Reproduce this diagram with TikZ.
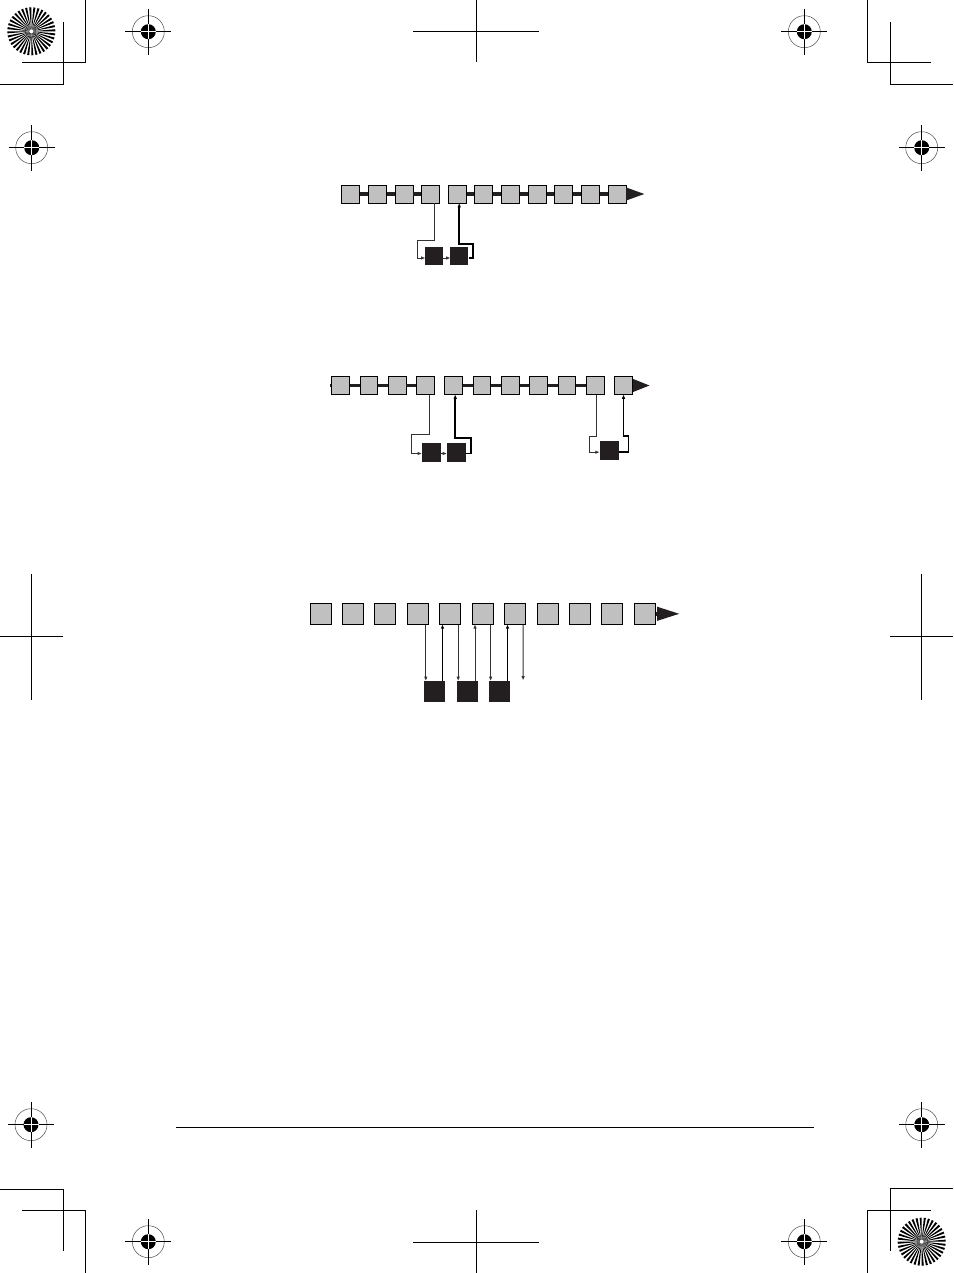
\documentclass[tikz,border=0pt]{standalone}
\usetikzlibrary{arrows.meta,positioning}
\definecolor{cellgray}{RGB}{192,192,192}
\definecolor{jobblack}{RGB}{35,31,32}
\tikzset{
  regmark/.pic={
    \draw[line width=0.5pt, black!70] (0,0) circle [radius=16pt];
    \draw[line width=1pt] (-23pt,0) -- (23pt,0) (0,-23pt) -- (0,23pt);
    \fill (0,0) circle [radius=7.5pt];
    \draw[white, line width=0.7pt] (-7.5pt,0) -- (7.5pt,0) (0,-7.5pt) -- (0,7.5pt);
  },
  starmark/.pic={
    \foreach \a in {0,10,...,350}
      \fill (0,0) -- (\a:24pt) arc [start angle=\a, end angle=\a+5, radius=24pt] -- cycle;
    \fill[white] (0,0) circle [radius=2pt];
  }
}
\begin{document}
\begin{tikzpicture}[x=1pt, y=-1pt]
    \tikzstyle{cell} = [shape=rectangle, draw=black, fill=cellgray, line width=0.8pt, inner sep=0pt]
    \tikzstyle{job}  = [shape=rectangle, fill=jobblack, inner sep=0pt]
    \tikzstyle{bar}  = [line width=3.6pt, draw=jobblack]
    \tikzstyle{feed} = [line width=1pt, draw=black!80, -{Triangle[length=4pt,width=3pt]}]
    \tikzstyle{back} = [line width=1.8pt, draw=black, -{Triangle[length=4pt,width=3pt]}]
    \tikzstyle{crop} = [line width=1pt]
    \useasboundingbox (0,0) rectangle (953,1273);

    % printer's marks
    \draw[crop] (85,0) -- (85,62.7) -- (22.3,62.7);
    \draw[crop] (63.3,22.3) -- (63.3,85) -- (0,85);
    \draw[crop] (867.3,0) -- (867.3,62.7) -- (930.7,62.7);
    \draw[crop] (890.3,22.3) -- (890.3,85) -- (953,85);
    \draw[crop] (0,1189) -- (63.3,1189) -- (63.3,1250.7);
    \draw[crop] (22.3,1210.3) -- (85.3,1210.3) -- (85.3,1273);
    \draw[crop] (953,1188.7) -- (890.3,1188.7) -- (890.3,1250.7);
    \draw[crop] (930.7,1210.3) -- (867.3,1210.3) -- (867.3,1273);
    \draw[crop] (476.7,0) -- (476.7,62.3) (413.3,31.3) -- (539.3,31.3);
    \draw[crop] (476.7,1210) -- (476.7,1273) (413.3,1242.3) -- (539.3,1242.3);
    \draw[crop] (31.3,574) -- (31.3,700) (0,636.3) -- (62.7,636.3);
    \draw[crop] (921.7,574) -- (921.7,700) (890.3,636.3) -- (953,636.3);
    \draw[crop] (175.7,1127.3) -- (814.3,1127.3);
    \pic at (148.3,31.7) {regmark};
    \pic at (31.7,147.7) {regmark};
    \pic at (804.3,31.7) {regmark};
    \pic at (921.7,147.7) {regmark};
    \pic at (31,1124.7) {regmark};
    \pic at (148.3,1241.7) {regmark};
    \pic at (921.7,1124.7) {regmark};
    \pic at (804.3,1241.7) {regmark};
    \pic at (31.3,31.3) {starmark};
    \pic at (921.7,1241.7) {starmark};

    % first row
    \begin{scope}[node distance=26.63pt, every node/.append style={minimum size=18pt}]
    \node (a1)  [cell] at (350.7,194) {};
    \node (a2)  [cell] [right of = a1]  {};
    \node (a3)  [cell] [right of = a2]  {};
    \node (a4)  [cell] [right of = a3]  {};
    \node (a5)  [cell] [right of = a4]  {};
    \node (a6)  [cell] [right of = a5]  {};
    \node (a7)  [cell] [right of = a6]  {};
    \node (a8)  [cell] [right of = a7]  {};
    \node (a9)  [cell] [right of = a8]  {};
    \node (a10) [cell] [right of = a9]  {};
    \node (a11) [cell] [right of = a10] {};
    \node (ja1) [job] at (434.2,256) {};
    \node (ja2) [job] [right of = ja1, node distance=25.1pt] {};
    \end{scope}
    \coordinate (atip) at (645,194);
    \foreach \i/\j in {1/2,2/3,3/4,5/6,6/7,7/8,8/9,9/10,10/11}
        \draw[bar] (a\i) -- (a\j);
    \draw[bar, -{Triangle[length=19pt,width=12pt]}] (a11.east) -- (atip);
    \draw[feed] ([xshift=4]a4.south) -- ++(0,37) -- ++(-17.3,0) |- ([yshift=-2]ja1.west);
    \draw[feed] ([yshift=-2]ja1.east) -- ([yshift=-2]ja2.west);
    \draw[back] ([yshift=-2]ja2.east) -- ++(4.6,0) -- ++(0,-14) -| ([xshift=2]a5.south);

    % second row
    \begin{scope}[node distance=28.3pt, every node/.append style={minimum size=17.7pt}]
    \node (b1)  [cell] at (340.5,385.5) {};
    \node (b2)  [cell] [right of = b1]  {};
    \node (b3)  [cell] [right of = b2]  {};
    \node (b4)  [cell] [right of = b3]  {};
    \node (b5)  [cell] [right of = b4]  {};
    \node (b6)  [cell] [right of = b5]  {};
    \node (b7)  [cell] [right of = b6]  {};
    \node (b8)  [cell] [right of = b7]  {};
    \node (b9)  [cell] [right of = b8]  {};
    \node (b10) [cell] [right of = b9]  {};
    \node (b11) [cell] [right of = b10] {};
    \node (jb1) [job, minimum size=19pt] at (431.2,452.5) {};
    \node (jb2) [job, minimum size=19pt] [right of = jb1, node distance=25.1pt] {};
    \node (jb3) [job, minimum size=19pt] at (609,450.2) {};
    \end{scope}
    \coordinate (bstart) at (330,385.5);
    \coordinate (btip) at (650,385.5);
    \draw[bar] (bstart) -- (b1);
    \foreach \i/\j in {1/2,2/3,3/4,5/6,6/7,7/8,8/9,9/10}
        \draw[bar] (b\i) -- (b\j);
    \draw[bar, -{Triangle[length=17pt,width=12pt]}] (b11.east) -- (btip);
    \draw[feed] ([xshift=4]b4.south) -- ++(0,39.7) -- ++(-17.7,0) |- ([yshift=-1]jb1.west);
    \draw[feed] ([yshift=-1]jb1.east) -- ([yshift=-1]jb2.west);
    \draw[back] ([yshift=-1]jb2.east) -- ++(5,0) -- ++(0,-15.2) -| ([xshift=1.5]b5.south);
    \draw[feed] ([xshift=1]b10.south) -- ++(0,41.3) -- ++(-6.9,0) |- ([yshift=-2]jb3.west);
    \draw[back] ([yshift=-2]jb3.east) -- ++(9.8,0) -- ++(0,-16.5) -| (b11.south);

    % third row
    \begin{scope}[node distance=32.43pt, every node/.append style={minimum size=21pt}]
    \node (c1)  [cell] at (320.5,613.8) {};
    \node (c2)  [cell] [right of = c1]  {};
    \node (c3)  [cell] [right of = c2]  {};
    \node (c4)  [cell] [right of = c3]  {};
    \node (c5)  [cell] [right of = c4]  {};
    \node (c6)  [cell] [right of = c5]  {};
    \node (c7)  [cell] [right of = c6]  {};
    \node (c8)  [cell] [right of = c7]  {};
    \node (c9)  [cell] [right of = c8]  {};
    \node (c10) [cell] [right of = c9]  {};
    \node (c11) [cell] [right of = c10] {};
    \node (jc1) [job] at (434.5,691.3) {};
    \node (jc2) [job] [right of = jc1, node distance=32.5pt] {};
    \node (jc3) [job] [right of = jc2, node distance=32.5pt] {};
    \end{scope}
    \coordinate (ctip) at (680,613.8);
    \coordinate (cend) at (523.1,680);
    \draw[bar, line width=4pt, -{Triangle[length=23pt,width=13pt]}] (c11.east) -- (ctip);
    \draw[feed] ([xshift=8]c4.south) -- ([xshift=8]c4.south |- jc1.north);
    \draw[back] ([xshift=8]jc1.north) -- ([xshift=8]jc1.north |- c5.south);
    \draw[feed] ([xshift=8]c5.south) -- ([xshift=8]c5.south |- jc2.north);
    \draw[feed] ([xshift=8]jc2.north) -- ([xshift=8]jc2.north |- c6.south);
    \draw[feed] ([xshift=8]c6.south) -- ([xshift=8]c6.south |- jc3.north);
    \draw[back] ([xshift=8]jc3.north) -- ([xshift=8]jc3.north |- c7.south);
    \draw[feed] ([xshift=8]c7.south) -- (cend);
\end{tikzpicture}
\end{document}
